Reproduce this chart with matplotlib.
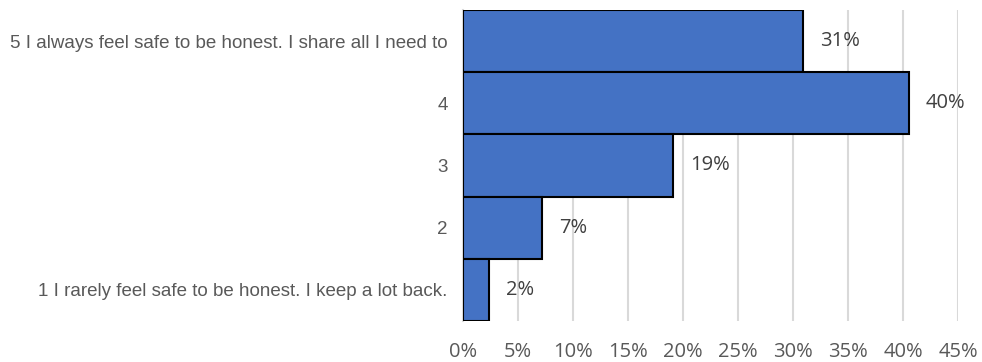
import matplotlib
matplotlib.use("Agg")
import matplotlib.pyplot as plt
from matplotlib.ticker import PercentFormatter

# Survey responses, top of chart first
categories = [
    "5 I always feel safe to be honest. I share all I need to",
    "4",
    "3",
    "2",
    "1 I rarely feel safe to be honest. I keep a lot back.",
]
shares = [0.309, 0.405, 0.191, 0.072, 0.024]
share_labels = ["31%", "40%", "19%", "7%", "2%"]
xticks = [0, 0.05, 0.10, 0.15, 0.20, 0.25, 0.30, 0.35, 0.40, 0.45]

fig = plt.figure(figsize=(9.82, 3.62), dpi=100)
ax = fig.add_axes([463 / 982, 1 - 321 / 362, (958 - 463) / 982, (321 - 10) / 362])

ypos = list(range(len(categories)))[::-1]
ax.barh(ypos, shares, height=1.0, color="#4472C4", edgecolor="black",
        linewidth=1.5, zorder=3)

for y, v, lab in zip(ypos, shares, share_labels):
    ax.annotate(lab, (v, y), xytext=(12, 0), textcoords="offset points",
                va="center", ha="left", fontsize=14.5, color="#404040",
                family=["Open Sans", "DejaVu Sans"])

ax.set_xlim(0, 0.45)
ax.set_ylim(-0.5, len(categories) - 0.5)
ax.set_xticks(xticks)
ax.xaxis.set_major_formatter(PercentFormatter(1.0, decimals=0))
ax.set_yticks(ypos)
ax.set_yticklabels(categories)

ax.grid(axis="x", color="#d9d9d9", linewidth=1.5, zorder=0)
for side in ("top", "right", "bottom"):
    ax.spines[side].set_visible(False)
ax.spines["left"].set_color("#d9d9d9")
ax.spines["left"].set_linewidth(1.5)

ax.tick_params(axis="y", length=0, pad=11, labelsize=13.5, labelcolor="#595959")
ax.tick_params(axis="x", length=0, pad=15, labelsize=14.5, labelcolor="#595959")
for t in ax.get_yticklabels():
    t.set_family(["Liberation Sans", "DejaVu Sans"])
for t in ax.get_xticklabels():
    t.set_family(["Open Sans", "DejaVu Sans"])

fig.savefig("out.png", dpi=100)
